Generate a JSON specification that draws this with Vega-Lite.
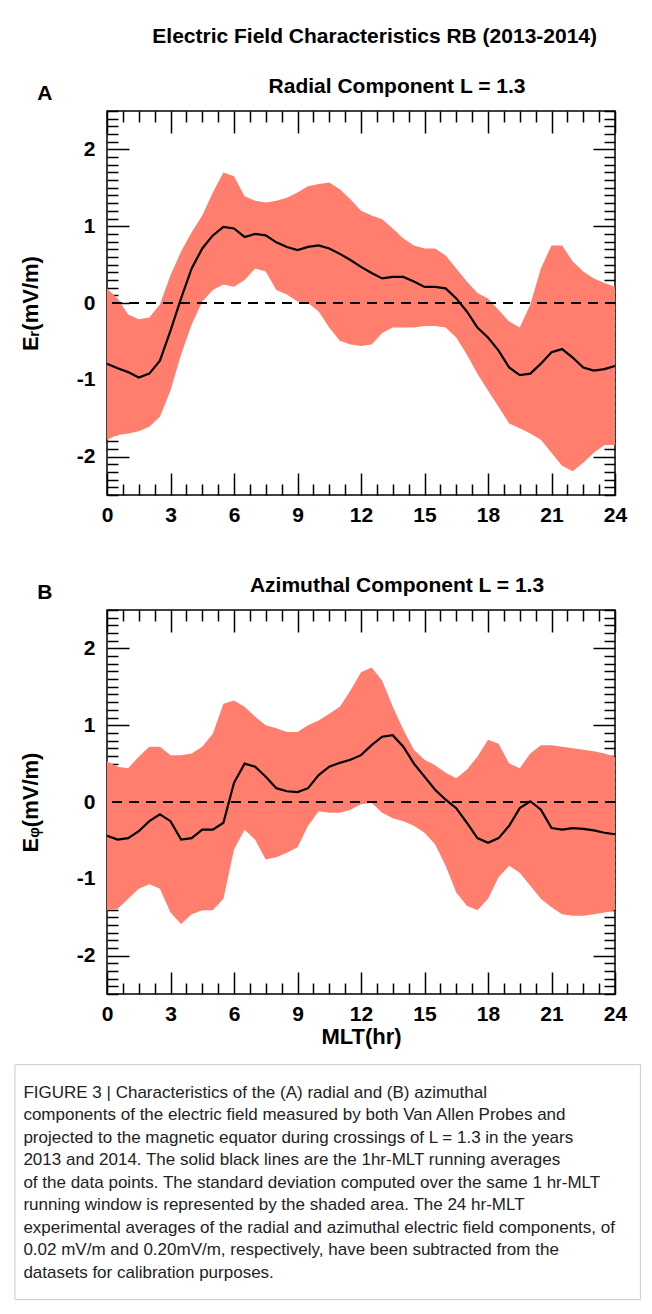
{
"$schema":"https://vega.github.io/schema/vega-lite/v6.json",
"background":"white",
"padding":{"left":13,"top":26,"right":10,"bottom":6},
"spacing":48,
"config":{"font":"Liberation Sans","view":{"stroke":"black","strokeWidth":1.5},
"axis":{"grid":false,"domain":false,"tickColor":"black","tickWidth":1.5,"labelFont":"Liberation Sans","labelFontSize":21,"labelFontWeight":"bold","labelColor":"black","titleFont":"Liberation Sans","titleFontSize":22,"titleFontWeight":"bold","titleColor":"black"},
"title":{"font":"Liberation Sans","fontSize":21,"fontWeight":"bold","color":"black"}},
"title":{"text":"Electric Field Characteristics RB (2013-2014)","anchor":"middle","offset":28,"dx":47},
"datasets":{
"A":[
{"t":0,"m":-0.79,"lo":-1.78,"hi":0.19},{"t":0.5,"m":-0.85,"lo":-1.72,"hi":0.06},{"t":1,"m":-0.9,"lo":-1.7,"hi":-0.15},{"t":1.5,"m":-0.97,"lo":-1.67,"hi":-0.21},{"t":2,"m":-0.92,"lo":-1.61,"hi":-0.19},{"t":2.5,"m":-0.75,"lo":-1.48,"hi":-0.02},{"t":3,"m":-0.36,"lo":-1.14,"hi":0.36},{"t":3.5,"m":0.06,"lo":-0.67,"hi":0.67},{"t":4,"m":0.45,"lo":-0.28,"hi":0.92},{"t":4.5,"m":0.71,"lo":0.02,"hi":1.14},{"t":5,"m":0.88,"lo":0.17,"hi":1.44},{"t":5.5,"m":0.99,"lo":0.24,"hi":1.7},{"t":6,"m":0.97,"lo":0.21,"hi":1.65},{"t":6.5,"m":0.86,"lo":0.3,"hi":1.39},{"t":7,"m":0.9,"lo":0.45,"hi":1.33},{"t":7.5,"m":0.88,"lo":0.41,"hi":1.31},{"t":8,"m":0.79,"lo":0.17,"hi":1.33},{"t":8.5,"m":0.73,"lo":0.11,"hi":1.37},{"t":9,"m":0.69,"lo":0.02,"hi":1.44},{"t":9.5,"m":0.73,"lo":0.0,"hi":1.52},{"t":10,"m":0.75,"lo":-0.11,"hi":1.55},{"t":10.5,"m":0.71,"lo":-0.32,"hi":1.57},{"t":11,"m":0.64,"lo":-0.49,"hi":1.48},{"t":11.5,"m":0.56,"lo":-0.54,"hi":1.35},{"t":12,"m":0.47,"lo":-0.56,"hi":1.2},{"t":12.5,"m":0.39,"lo":-0.54,"hi":1.14},{"t":13,"m":0.32,"lo":-0.39,"hi":1.09},{"t":13.5,"m":0.34,"lo":-0.32,"hi":0.97},{"t":14,"m":0.34,"lo":-0.32,"hi":0.84},{"t":14.5,"m":0.28,"lo":-0.32,"hi":0.75},{"t":15,"m":0.21,"lo":-0.3,"hi":0.71},{"t":15.5,"m":0.21,"lo":-0.3,"hi":0.71},{"t":16,"m":0.19,"lo":-0.32,"hi":0.62},{"t":16.5,"m":0.06,"lo":-0.45,"hi":0.45},{"t":17,"m":-0.11,"lo":-0.67,"hi":0.28},{"t":17.5,"m":-0.32,"lo":-0.92,"hi":0.13},{"t":18,"m":-0.45,"lo":-1.14,"hi":0.06},{"t":18.5,"m":-0.62,"lo":-1.35,"hi":-0.09},{"t":19,"m":-0.84,"lo":-1.57,"hi":-0.24},{"t":19.5,"m":-0.94,"lo":-1.63,"hi":-0.32},{"t":20,"m":-0.92,"lo":-1.7,"hi":-0.02},{"t":20.5,"m":-0.79,"lo":-1.78,"hi":0.45},{"t":21,"m":-0.64,"lo":-1.95,"hi":0.75},{"t":21.5,"m":-0.6,"lo":-2.12,"hi":0.75},{"t":22,"m":-0.71,"lo":-2.19,"hi":0.54},{"t":22.5,"m":-0.84,"lo":-2.08,"hi":0.41},{"t":23,"m":-0.88,"lo":-1.95,"hi":0.32},{"t":23.5,"m":-0.86,"lo":-1.85,"hi":0.26},{"t":24,"m":-0.82,"lo":-1.85,"hi":0.21}],
"B":[
{"t":0,"m":-0.44,"lo":-1.41,"hi":0.53},{"t":0.5,"m":-0.49,"lo":-1.39,"hi":0.46},{"t":1,"m":-0.47,"lo":-1.26,"hi":0.44},{"t":1.5,"m":-0.38,"lo":-1.13,"hi":0.59},{"t":2,"m":-0.25,"lo":-1.07,"hi":0.72},{"t":2.5,"m":-0.16,"lo":-1.13,"hi":0.72},{"t":3,"m":-0.25,"lo":-1.44,"hi":0.61},{"t":3.5,"m":-0.49,"lo":-1.59,"hi":0.61},{"t":4,"m":-0.47,"lo":-1.46,"hi":0.63},{"t":4.5,"m":-0.36,"lo":-1.41,"hi":0.72},{"t":5,"m":-0.36,"lo":-1.41,"hi":0.89},{"t":5.5,"m":-0.27,"lo":-1.26,"hi":1.28},{"t":6,"m":0.25,"lo":-0.62,"hi":1.32},{"t":6.5,"m":0.5,"lo":-0.36,"hi":1.24},{"t":7,"m":0.46,"lo":-0.49,"hi":1.11},{"t":7.5,"m":0.33,"lo":-0.75,"hi":1.0},{"t":8,"m":0.18,"lo":-0.72,"hi":0.96},{"t":8.5,"m":0.14,"lo":-0.66,"hi":0.91},{"t":9,"m":0.13,"lo":-0.59,"hi":0.91},{"t":9.5,"m":0.18,"lo":-0.31,"hi":1.0},{"t":10,"m":0.35,"lo":-0.12,"hi":1.06},{"t":10.5,"m":0.46,"lo":-0.14,"hi":1.15},{"t":11,"m":0.51,"lo":-0.14,"hi":1.24},{"t":11.5,"m":0.55,"lo":-0.1,"hi":1.45},{"t":12,"m":0.61,"lo":-0.03,"hi":1.69},{"t":12.5,"m":0.74,"lo":-0.01,"hi":1.75},{"t":13,"m":0.85,"lo":-0.14,"hi":1.58},{"t":13.5,"m":0.87,"lo":-0.21,"hi":1.24},{"t":14,"m":0.72,"lo":-0.25,"hi":0.94},{"t":14.5,"m":0.5,"lo":-0.31,"hi":0.68},{"t":15,"m":0.33,"lo":-0.4,"hi":0.55},{"t":15.5,"m":0.16,"lo":-0.55,"hi":0.48},{"t":16,"m":0.03,"lo":-0.83,"hi":0.38},{"t":16.5,"m":-0.08,"lo":-1.18,"hi":0.31},{"t":17,"m":-0.27,"lo":-1.35,"hi":0.42},{"t":17.5,"m":-0.47,"lo":-1.41,"hi":0.59},{"t":18,"m":-0.53,"lo":-1.26,"hi":0.81},{"t":18.5,"m":-0.47,"lo":-0.98,"hi":0.76},{"t":19,"m":-0.31,"lo":-0.83,"hi":0.5},{"t":19.5,"m":-0.08,"lo":-0.92,"hi":0.44},{"t":20,"m":0.01,"lo":-1.09,"hi":0.63},{"t":20.5,"m":-0.1,"lo":-1.26,"hi":0.74},{"t":21,"m":-0.34,"lo":-1.37,"hi":0.74},{"t":21.5,"m":-0.36,"lo":-1.46,"hi":0.72},{"t":22,"m":-0.34,"lo":-1.48,"hi":0.7},{"t":22.5,"m":-0.35,"lo":-1.48,"hi":0.68},{"t":23,"m":-0.37,"lo":-1.46,"hi":0.66},{"t":23.5,"m":-0.4,"lo":-1.44,"hi":0.63},{"t":24,"m":-0.42,"lo":-1.41,"hi":0.59}],
"cap":[
{"i":1,"s":"FIGURE 3 | Characteristics of the (A) radial and (B) azimuthal"},
{"i":2,"s":"components of the electric field measured by both Van Allen Probes and"},
{"i":3,"s":"projected to the magnetic equator during crossings of L = 1.3 in the years"},
{"i":4,"s":"2013 and 2014. The solid black lines are the 1hr-MLT running averages"},
{"i":5,"s":"of the data points. The standard deviation computed over the same 1 hr-MLT"},
{"i":6,"s":"running window is represented by the shaded area. The 24 hr-MLT"},
{"i":7,"s":"experimental averages of the radial and azimuthal electric field components, of"},
{"i":8,"s":"0.02 mV/m and 0.20mV/m, respectively, have been subtracted from the"},
{"i":9,"s":"datasets for calibration purposes."}]
},
"vconcat":[
{"width":508,"height":384,"title":{"text":"Radial Component L = 1.3","offset":-14,"dx":36},
"data":{"name":"A"},
"resolve":{"axis":{"x":"independent","y":"independent"}},
"layer":[
{"mark":{"type":"area","color":"#FF7E6D","opacity":1},
"encoding":{"x":{"field":"t","type":"quantitative","scale":{"domain":[0,24],"nice":false},
"axis":{"orient":"bottom","title":null,"values":[0,0.75,1.5,2.25,3,3.75,4.5,5.25,6,6.75,7.5,8.25,9,9.75,10.5,11.25,12,12.75,13.5,14.25,15,15.75,16.5,17.25,18,18.75,19.5,20.25,21,21.75,22.5,23.25,24],"labelExpr":"datum.value % 3 === 0 ? datum.value : ''","tickSize":{"condition":{"test":"datum.value % 3 === 0","value":-22},"value":-11},"labelPadding":31,"labelFlush":false}},
"y":{"field":"lo","type":"quantitative","scale":{"domain":[-2.5,2.5],"nice":false},
"axis":{"orient":"left","title":"Eᵣ(mV/m)","titlePadding":34,"values":[-2.5,-2.4,-2.3,-2.2,-2.1,-2,-1.9,-1.8,-1.7,-1.6,-1.5,-1.4,-1.3,-1.2,-1.1,-1,-0.9,-0.8,-0.7,-0.6,-0.5,-0.4,-0.3,-0.2,-0.1,0,0.1,0.2,0.3,0.4,0.5,0.6,0.7,0.8,0.9,1,1.1,1.2,1.3,1.4,1.5,1.6,1.7,1.8,1.9,2,2.1,2.2,2.3,2.4,2.5],"labelExpr":"abs(datum.value-round(datum.value))<0.01 && abs(datum.value)<2.4 ? round(datum.value) : ''","tickSize":{"condition":{"test":"abs(datum.value-round(datum.value))<0.01","value":-22},"value":-11},"labelPadding":34,"labelFlush":false}},
"y2":{"field":"hi"}}},
{"mark":{"type":"line","color":"black","strokeWidth":2.2},
"encoding":{"x":{"field":"t","type":"quantitative","scale":{"domain":[0,24],"nice":false},
"axis":{"orient":"top","title":null,"labels":false,"values":[0,0.75,1.5,2.25,3,3.75,4.5,5.25,6,6.75,7.5,8.25,9,9.75,10.5,11.25,12,12.75,13.5,14.25,15,15.75,16.5,17.25,18,18.75,19.5,20.25,21,21.75,22.5,23.25,24],"tickSize":{"condition":{"test":"datum.value % 3 === 0","value":-22},"value":-11}}},
"y":{"field":"m","type":"quantitative","scale":{"domain":[-2.5,2.5],"nice":false},
"axis":{"orient":"right","title":null,"labels":false,"values":[-2.5,-2.4,-2.3,-2.2,-2.1,-2,-1.9,-1.8,-1.7,-1.6,-1.5,-1.4,-1.3,-1.2,-1.1,-1,-0.9,-0.8,-0.7,-0.6,-0.5,-0.4,-0.3,-0.2,-0.1,0,0.1,0.2,0.3,0.4,0.5,0.6,0.7,0.8,0.9,1,1.1,1.2,1.3,1.4,1.5,1.6,1.7,1.8,1.9,2,2.1,2.2,2.3,2.4,2.5],"tickSize":{"condition":{"test":"abs(datum.value-round(datum.value))<0.01","value":-22},"value":-11}}}}},
{"mark":{"type":"rule","color":"black","strokeDash":[10,7],"strokeWidth":1.3},"encoding":{"y":{"datum":0,"axis":null}}},
{"data":{"values":[{"l":"A"}]},"mark":{"type":"text","fontSize":21,"fontWeight":"bold","clip":false,"align":"left"},"encoding":{"x":{"datum":-3.3,"axis":null},"y":{"datum":2.72,"axis":null},"text":{"field":"l"}}}
]},
{"width":508,"height":384,"title":{"text":"Azimuthal Component L = 1.3","offset":-14,"dx":36},
"data":{"name":"B"},
"resolve":{"axis":{"x":"independent","y":"independent"},"scale":{"y":"independent"}},
"layer":[
{"mark":{"type":"area","color":"#FF7E6D","opacity":1},
"encoding":{"x":{"field":"t","type":"quantitative","scale":{"domain":[0,24],"nice":false},
"axis":{"orient":"bottom","title":"MLT(hr)","titlePadding":2,"values":[0,0.75,1.5,2.25,3,3.75,4.5,5.25,6,6.75,7.5,8.25,9,9.75,10.5,11.25,12,12.75,13.5,14.25,15,15.75,16.5,17.25,18,18.75,19.5,20.25,21,21.75,22.5,23.25,24],"labelExpr":"datum.value % 3 === 0 ? datum.value : ''","tickSize":{"condition":{"test":"datum.value % 3 === 0","value":-22},"value":-11},"labelPadding":31,"labelFlush":false}},
"y":{"field":"lo","type":"quantitative","scale":{"domain":[-2.5,2.5],"nice":false},
"axis":{"orient":"left","title":"Eᵩ(mV/m)","titlePadding":34,"values":[-2.5,-2.4,-2.3,-2.2,-2.1,-2,-1.9,-1.8,-1.7,-1.6,-1.5,-1.4,-1.3,-1.2,-1.1,-1,-0.9,-0.8,-0.7,-0.6,-0.5,-0.4,-0.3,-0.2,-0.1,0,0.1,0.2,0.3,0.4,0.5,0.6,0.7,0.8,0.9,1,1.1,1.2,1.3,1.4,1.5,1.6,1.7,1.8,1.9,2,2.1,2.2,2.3,2.4,2.5],"labelExpr":"abs(datum.value-round(datum.value))<0.01 && abs(datum.value)<2.4 ? round(datum.value) : ''","tickSize":{"condition":{"test":"abs(datum.value-round(datum.value))<0.01","value":-22},"value":-11},"labelPadding":34,"labelFlush":false}},
"y2":{"field":"hi"}}},
{"mark":{"type":"line","color":"black","strokeWidth":2.2},
"encoding":{"x":{"field":"t","type":"quantitative","scale":{"domain":[0,24],"nice":false},
"axis":{"orient":"top","title":null,"labels":false,"values":[0,0.75,1.5,2.25,3,3.75,4.5,5.25,6,6.75,7.5,8.25,9,9.75,10.5,11.25,12,12.75,13.5,14.25,15,15.75,16.5,17.25,18,18.75,19.5,20.25,21,21.75,22.5,23.25,24],"tickSize":{"condition":{"test":"datum.value % 3 === 0","value":-22},"value":-11}}},
"y":{"field":"m","type":"quantitative","scale":{"domain":[-2.5,2.5],"nice":false},
"axis":{"orient":"right","title":null,"labels":false,"values":[-2.5,-2.4,-2.3,-2.2,-2.1,-2,-1.9,-1.8,-1.7,-1.6,-1.5,-1.4,-1.3,-1.2,-1.1,-1,-0.9,-0.8,-0.7,-0.6,-0.5,-0.4,-0.3,-0.2,-0.1,0,0.1,0.2,0.3,0.4,0.5,0.6,0.7,0.8,0.9,1,1.1,1.2,1.3,1.4,1.5,1.6,1.7,1.8,1.9,2,2.1,2.2,2.3,2.4,2.5],"tickSize":{"condition":{"test":"abs(datum.value-round(datum.value))<0.01","value":-22},"value":-11}}}}},
{"mark":{"type":"rule","color":"black","strokeDash":[10,7],"strokeWidth":1.3},"encoding":{"y":{"datum":0,"axis":null,"scale":{"domain":[-2.5,2.5],"nice":false}}}},
{"data":{"values":[{"l":"B"}]},"mark":{"type":"text","fontSize":21,"fontWeight":"bold","clip":false,"align":"left"},"encoding":{"x":{"datum":-3.3,"axis":null},"y":{"datum":2.72,"axis":null,"scale":{"domain":[-2.5,2.5],"nice":false}},"text":{"field":"l"}}},
{"data":{"values":[{"b":1}]},"mark":{"type":"rect","fill":null,"stroke":"#cccccc","strokeWidth":1,"clip":false},"encoding":{"x":{"datum":-4.35,"axis":null},"x2":{"datum":25.2},"y":{"datum":-3.42,"axis":null,"scale":{"domain":[-2.5,2.5],"nice":false}},"y2":{"datum":-6.48}}},
{"data":{"name":"cap"},"mark":{"type":"text","align":"left","fontSize":17,"font":"Liberation Sans","color":"#222","clip":false},
"encoding":{"x":{"datum":-3.95,"axis":null},"y":{"field":"i","type":"quantitative","scale":{"domain":[-20.47,-3.4],"reverse":true,"nice":false,"zero":false},"axis":null},"text":{"field":"s"}}}
]}
]
}
